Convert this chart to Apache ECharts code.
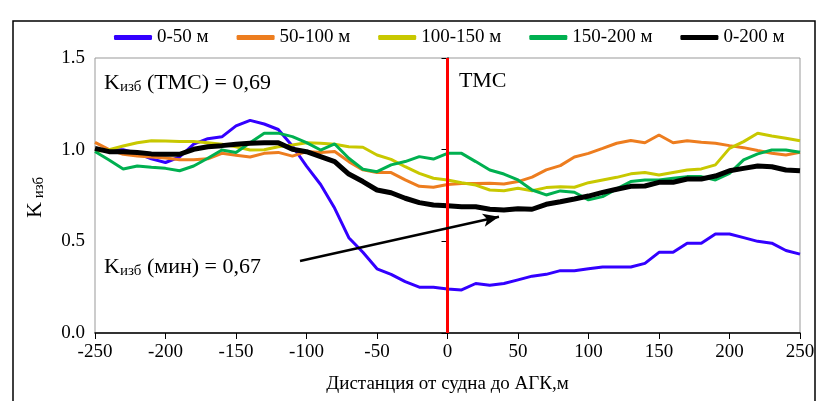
<!DOCTYPE html>
<html>
<head>
<meta charset="utf-8">
<script src="https://cdn.jsdelivr.net/npm/echarts@6/dist/echarts.min.js"></script>
<style>
  html, body { margin: 0; padding: 0; background: #fff; }
  #chart { width: 818px; height: 401px; }
</style>
</head>
<body>
<div id="chart"></div>
<script>
// distance from vessel to AGK, m
const distances = [-250, -240, -230, -220, -210, -200, -190, -180, -170, -160, -150, -140, -130, -120, -110, -100,
  -90, -80, -70, -60, -50, -40, -30, -20, -10, 0, 10, 20, 30, 40, 50, 60, 70, 80, 90, 100, 110, 120, 130, 140,
  150, 160, 170, 180, 190, 200, 210, 220, 230, 240, 250];

const seriesNames = ['0-50 м', '50-100 м', '100-150 м', '150-200 м', '0-200 м'];
const seriesColors = ['#3300ff', '#ed7d1f', '#c8c800', '#00b050', '#000000'];

const k0_50 = [1.00, 1.00, 1.00, 0.98, 0.95, 0.93, 0.96, 1.03, 1.06, 1.07, 1.13, 1.16, 1.14, 1.11, 1.02, 0.91,
  0.81, 0.68, 0.52, 0.44, 0.35, 0.32, 0.28, 0.25, 0.25, 0.24, 0.235, 0.27, 0.26, 0.27, 0.29, 0.31, 0.32, 0.34,
  0.34, 0.35, 0.36, 0.36, 0.36, 0.38, 0.44, 0.44, 0.49, 0.49, 0.54, 0.54, 0.52, 0.50, 0.49, 0.45, 0.43];

const k50_100 = [1.04, 1.00, 0.975, 0.965, 0.96, 0.955, 0.945, 0.945, 0.95, 0.98, 0.97, 0.96, 0.98, 0.985, 0.965,
  0.99, 0.985, 0.99, 0.935, 0.89, 0.875, 0.875, 0.835, 0.80, 0.795, 0.81, 0.815, 0.815, 0.817, 0.813, 0.826,
  0.85, 0.89, 0.913, 0.96, 0.98, 1.007, 1.035, 1.05, 1.038, 1.08, 1.038, 1.049, 1.04, 1.035, 1.022, 1.011,
  0.995, 0.98, 0.971, 0.986];

const k100_150 = [0.99, 1.00, 1.02, 1.038, 1.049, 1.047, 1.045, 1.044, 1.038, 1.029, 1.016, 0.998, 1.0, 1.016,
  1.026, 1.038, 1.035, 1.029, 1.016, 1.013, 0.971, 0.947, 0.907, 0.871, 0.844, 0.835, 0.82, 0.807, 0.78, 0.776,
  0.789, 0.776, 0.793, 0.798, 0.795, 0.82, 0.835, 0.849, 0.868, 0.876, 0.862, 0.876, 0.889, 0.895, 0.917,
  1.007, 1.044, 1.09, 1.075, 1.062, 1.049];

const k150_200 = [0.99, 0.944, 0.895, 0.911, 0.904, 0.898, 0.885, 0.911, 0.953, 0.998, 0.984, 1.038, 1.09, 1.09,
  1.071, 1.038, 0.998, 1.031, 0.953, 0.893, 0.88, 0.917, 0.935, 0.962, 0.949, 0.98, 0.98, 0.935, 0.889, 0.867,
  0.835, 0.78, 0.753, 0.775, 0.768, 0.726, 0.744, 0.786, 0.826, 0.835, 0.835, 0.844, 0.853, 0.853, 0.835,
  0.871, 0.944, 0.977, 0.998, 0.998, 0.986];

const k0_200 = [1.007, 0.989, 0.989, 0.984, 0.977, 0.975, 0.975, 1.002, 1.016, 1.022, 1.029, 1.035, 1.038, 1.038,
  1.002, 0.989, 0.962, 0.935, 0.867, 0.826, 0.78, 0.765, 0.735, 0.711, 0.698, 0.694, 0.689, 0.689, 0.675,
  0.671, 0.678, 0.675, 0.702, 0.716, 0.731, 0.747, 0.767, 0.784, 0.80, 0.802, 0.822, 0.822, 0.84, 0.84,
  0.856, 0.885, 0.898, 0.911, 0.907, 0.889, 0.885];

const allValues = [k0_50, k50_100, k100_150, k150_200, k0_200];

// annotations
const tmsDistance = 0;
const minArrowFrom = [-104.6, 0.393];
const minArrowTo = [36.5, 0.634];

const FONT = '"Liberation Serif", "Times New Roman", serif';

const chart = echarts.init(document.getElementById('chart'), null, { renderer: 'canvas' });

const lineSeries = seriesNames.map(function (name, i) {
  return {
    name: name,
    type: 'line',
    data: distances.map(function (d, j) { return [d, allValues[i][j]]; }),
    symbol: 'none',
    z: i === 4 ? 4 : 3,
    lineStyle: { color: seriesColors[i], width: i === 4 ? 5 : 3 },
    itemStyle: { color: seriesColors[i] }
  };
});

// red TMS line + arrow to minimum
lineSeries.push({
  name: 'tms',
  type: 'line',
  data: [],
  z: 6,
  markLine: {
    silent: true,
    animation: false,
    label: { show: false },
    data: [
      [
        { coord: [tmsDistance, 0], symbol: 'none', lineStyle: { color: '#ff0000', width: 3, type: 'solid' } },
        { coord: [tmsDistance, 1.5], symbol: 'none' }
      ],
      [
        { coord: minArrowFrom, symbol: 'none', lineStyle: { color: '#000', width: 2.5, type: 'solid' } },
        { coord: minArrowTo, symbol: 'arrow', symbolSize: [10, 16] }
      ]
    ]
  }
});

const option = {
  animation: false,
  backgroundColor: '#fff',
  textStyle: { fontFamily: FONT },
  grid: {
    left: 95, right: 18, top: 58, bottom: 68,
    show: true, borderColor: '#999', borderWidth: 1
  },
  legend: {
    data: seriesNames.map(function (n) { return { name: n, icon: 'roundRect' }; }),
    top: 23,
    left: 109,
    itemWidth: 38,
    itemHeight: 5,
    itemGap: 28,
    textStyle: { fontFamily: FONT, fontSize: 19, color: '#000' }
  },
  xAxis: {
    type: 'value',
    min: -250, max: 250, interval: 50,
    name: 'Дистанция от судна до АГК,м',
    nameLocation: 'middle',
    nameGap: 42,
    nameTextStyle: { fontFamily: FONT, fontSize: 19, color: '#000' },
    axisLine: { show: true, onZero: false, lineStyle: { color: '#000', width: 1.5 } },
    axisTick: { show: true, length: 6, lineStyle: { color: '#000', width: 1 } },
    axisLabel: { fontFamily: FONT, fontSize: 19, color: '#000', margin: 10 },
    splitLine: { show: false }
  },
  yAxis: {
    type: 'value',
    min: 0, max: 1.5, interval: 0.5,
    axisLine: { show: true, lineStyle: { color: '#000', width: 1.5 } },
    axisTick: { show: true, length: 6, lineStyle: { color: '#000', width: 1 } },
    axisLabel: {
      fontFamily: FONT, fontSize: 19, color: '#000', margin: 10,
      formatter: function (v) { return v.toFixed(1); }
    },
    splitLine: { show: false }
  },
  graphic: [
    {
      type: 'rect',
      shape: { x: 13, y: 21, width: 802, height: 400 },
      style: { fill: 'none', stroke: '#000', lineWidth: 1.5 },
      silent: true, z: 0
    },
    {
      type: 'text',
      x: 24, y: 218,
      rotation: Math.PI / 2,
      style: {
        text: '{k|K}{s| изб}',
        rich: {
          k: { fontFamily: FONT, fontSize: 22, fill: '#000' },
          s: { fontFamily: FONT, fontSize: 15, fill: '#000', verticalAlign: 'bottom', padding: [8, 0, 0, 0] }
        },
        textVerticalAlign: 'top'
      }
    },
    {
      type: 'text',
      left: 104, top: 72,
      style: {
        text: '{k|K}{s|изб}{k| (ТМС) = 0,69}',
        rich: {
          k: { fontFamily: FONT, fontSize: 22, fill: '#000' },
          s: { fontFamily: FONT, fontSize: 15, fill: '#000', verticalAlign: 'bottom', padding: [8, 0, 0, 0] }
        }
      }
    },
    {
      type: 'text',
      left: 104, top: 256,
      style: {
        text: '{k|K}{s|изб}{k| (мин) = 0,67}',
        rich: {
          k: { fontFamily: FONT, fontSize: 22, fill: '#000' },
          s: { fontFamily: FONT, fontSize: 15, fill: '#000', verticalAlign: 'bottom', padding: [8, 0, 0, 0] }
        }
      }
    },
    {
      type: 'text',
      left: 459, top: 70,
      style: { text: 'ТМС', fontFamily: FONT, fontSize: 22, fill: '#000' }
    }
  ],
  series: lineSeries
};

chart.setOption(option);
</script>
</body>
</html>
